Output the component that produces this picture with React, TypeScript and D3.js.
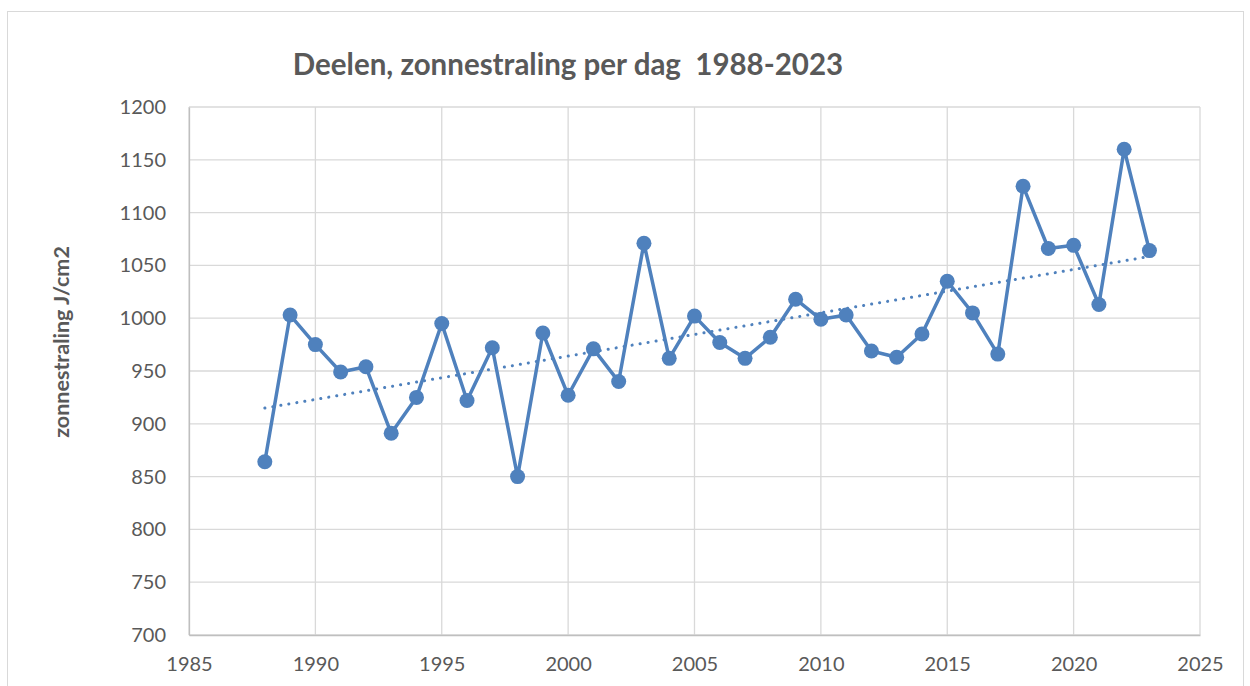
import React, { useEffect, useRef } from "react"
import * as d3 from "d3"

// jaarlijkse gemiddelde zonnestraling per dag, Deelen
const years = [1988, 1989, 1990, 1991, 1992, 1993, 1994, 1995, 1996, 1997, 1998, 1999,
  2000, 2001, 2002, 2003, 2004, 2005, 2006, 2007, 2008, 2009, 2010, 2011,
  2012, 2013, 2014, 2015, 2016, 2017, 2018, 2019, 2020, 2021, 2022, 2023]
const radiation = [864, 1003, 975, 949, 954, 891, 925, 995, 922, 972, 850, 986,
  927, 971, 940, 1071, 962, 1002, 977, 962, 982, 1018, 999, 1003,
  969, 963, 985, 1035, 1005, 966, 1125, 1066, 1069, 1013, 1160, 1064]
const xTicks = [1985, 1990, 1995, 2000, 2005, 2010, 2015, 2020, 2025]
const yTicks = [700, 750, 800, 850, 900, 950, 1000, 1050, 1100, 1150, 1200]

const title = "Deelen, zonnestraling per dag  1988-2023"
const yLabel = "zonnestraling J/cm2"

const App = () => {
  const svgRef = useRef<SVGSVGElement>(null)

  useEffect(() => {
    const width = 1250
    const height = 686
    const left = 189, right = 1200, top = 107, bottom = 635
    const blue = "#4f81bd"
    const font = "Lato, 'Open Sans', sans-serif"

    const svg = d3.select(svgRef.current)
    svg.selectAll("*").remove()

    svg.append("rect").attr("x", 0).attr("y", 0).attr("width", width).attr("height", height).attr("fill", "#fff")
    svg.append("rect")
      .attr("x", 7.5).attr("y", 11.5).attr("width", 1236).attr("height", 700)
      .attr("fill", "none").attr("stroke", "#d9d9d9").attr("stroke-width", 1)

    const x = d3.scaleLinear().domain([1985, 2025]).range([left, right])
    const y = d3.scaleLinear().domain([700, 1200]).range([bottom, top])

    // rasterlijnen
    svg.append("g").selectAll("line").data(yTicks).join("line")
      .attr("x1", left).attr("x2", right)
      .attr("y1", d => y(d)).attr("y2", d => y(d))
      .attr("stroke", "#d9d9d9").attr("stroke-width", 1.3)
    svg.append("g").selectAll("line").data(xTicks).join("line")
      .attr("y1", top).attr("y2", bottom)
      .attr("x1", d => x(d)).attr("x2", d => x(d))
      .attr("stroke", "#d9d9d9").attr("stroke-width", 1.3)

    // assen
    const xAxis = d3.axisBottom(x).tickValues(xTicks).tickFormat(d3.format("d")).tickSize(0).tickPadding(22)
    const yAxis = d3.axisLeft(y).tickValues(yTicks).tickFormat(d3.format("d")).tickSize(0).tickPadding(23)
    const gx = svg.append("g").attr("transform", `translate(0,${bottom})`).call(xAxis)
    const gy = svg.append("g").attr("transform", `translate(${left},0)`).call(yAxis)
    ;[gx, gy].forEach(g => {
      g.select(".domain").attr("stroke", "#bfbfbf").attr("stroke-width", 1.3)
      g.selectAll("text").attr("fill", "#595959").style("font-family", font).style("font-size", "20px")
    })

    // trendlijn (lineaire regressie)
    const n = years.length
    const mx = d3.mean(years)!
    const my = d3.mean(radiation)!
    const slope = d3.sum(years.map((v, i) => (v - mx) * (radiation[i] - my))) / d3.sum(years.map(v => (v - mx) ** 2))
    const icpt = my - slope * mx
    const trend = [years[0], years[n - 1]].map(v => [v, icpt + slope * v] as [number, number])
    svg.append("path")
      .attr("d", d3.line<[number, number]>().x(d => x(d[0])).y(d => y(d[1]))(trend))
      .attr("fill", "none").attr("stroke", blue).attr("stroke-width", 3)
      .attr("stroke-linecap", "round").attr("stroke-dasharray", "0.1 8")

    // reeks
    const pts = years.map((v, i) => [v, radiation[i]] as [number, number])
    svg.append("path")
      .attr("d", d3.line<[number, number]>().x(d => x(d[0])).y(d => y(d[1]))(pts))
      .attr("fill", "none").attr("stroke", blue).attr("stroke-width", 3.5).attr("stroke-linejoin", "round")
    svg.append("g").selectAll("circle").data(pts).join("circle")
      .attr("cx", d => x(d[0])).attr("cy", d => y(d[1])).attr("r", 7.5).attr("fill", blue)

    svg.append("text")
      .attr("x", 568).attr("y", 75).attr("text-anchor", "middle")
      .attr("fill", "#595959").style("font-family", font).style("font-weight", "bold").style("font-size", "29.5px")
      .style("white-space", "pre")
      .text(title)

    svg.append("text")
      .attr("transform", `translate(69,342) rotate(-90)`)
      .attr("text-anchor", "middle")
      .attr("fill", "#595959").style("font-family", font).style("font-weight", "bold").style("font-size", "21.5px")
      .text(yLabel)
  }, [])

  return (
    <div style={{ position: "absolute", left: 0, top: 0 }}>
      <svg ref={svgRef} width={1250} height={686} style={{ display: "block" }} />
    </div>
  )
}

export default App
